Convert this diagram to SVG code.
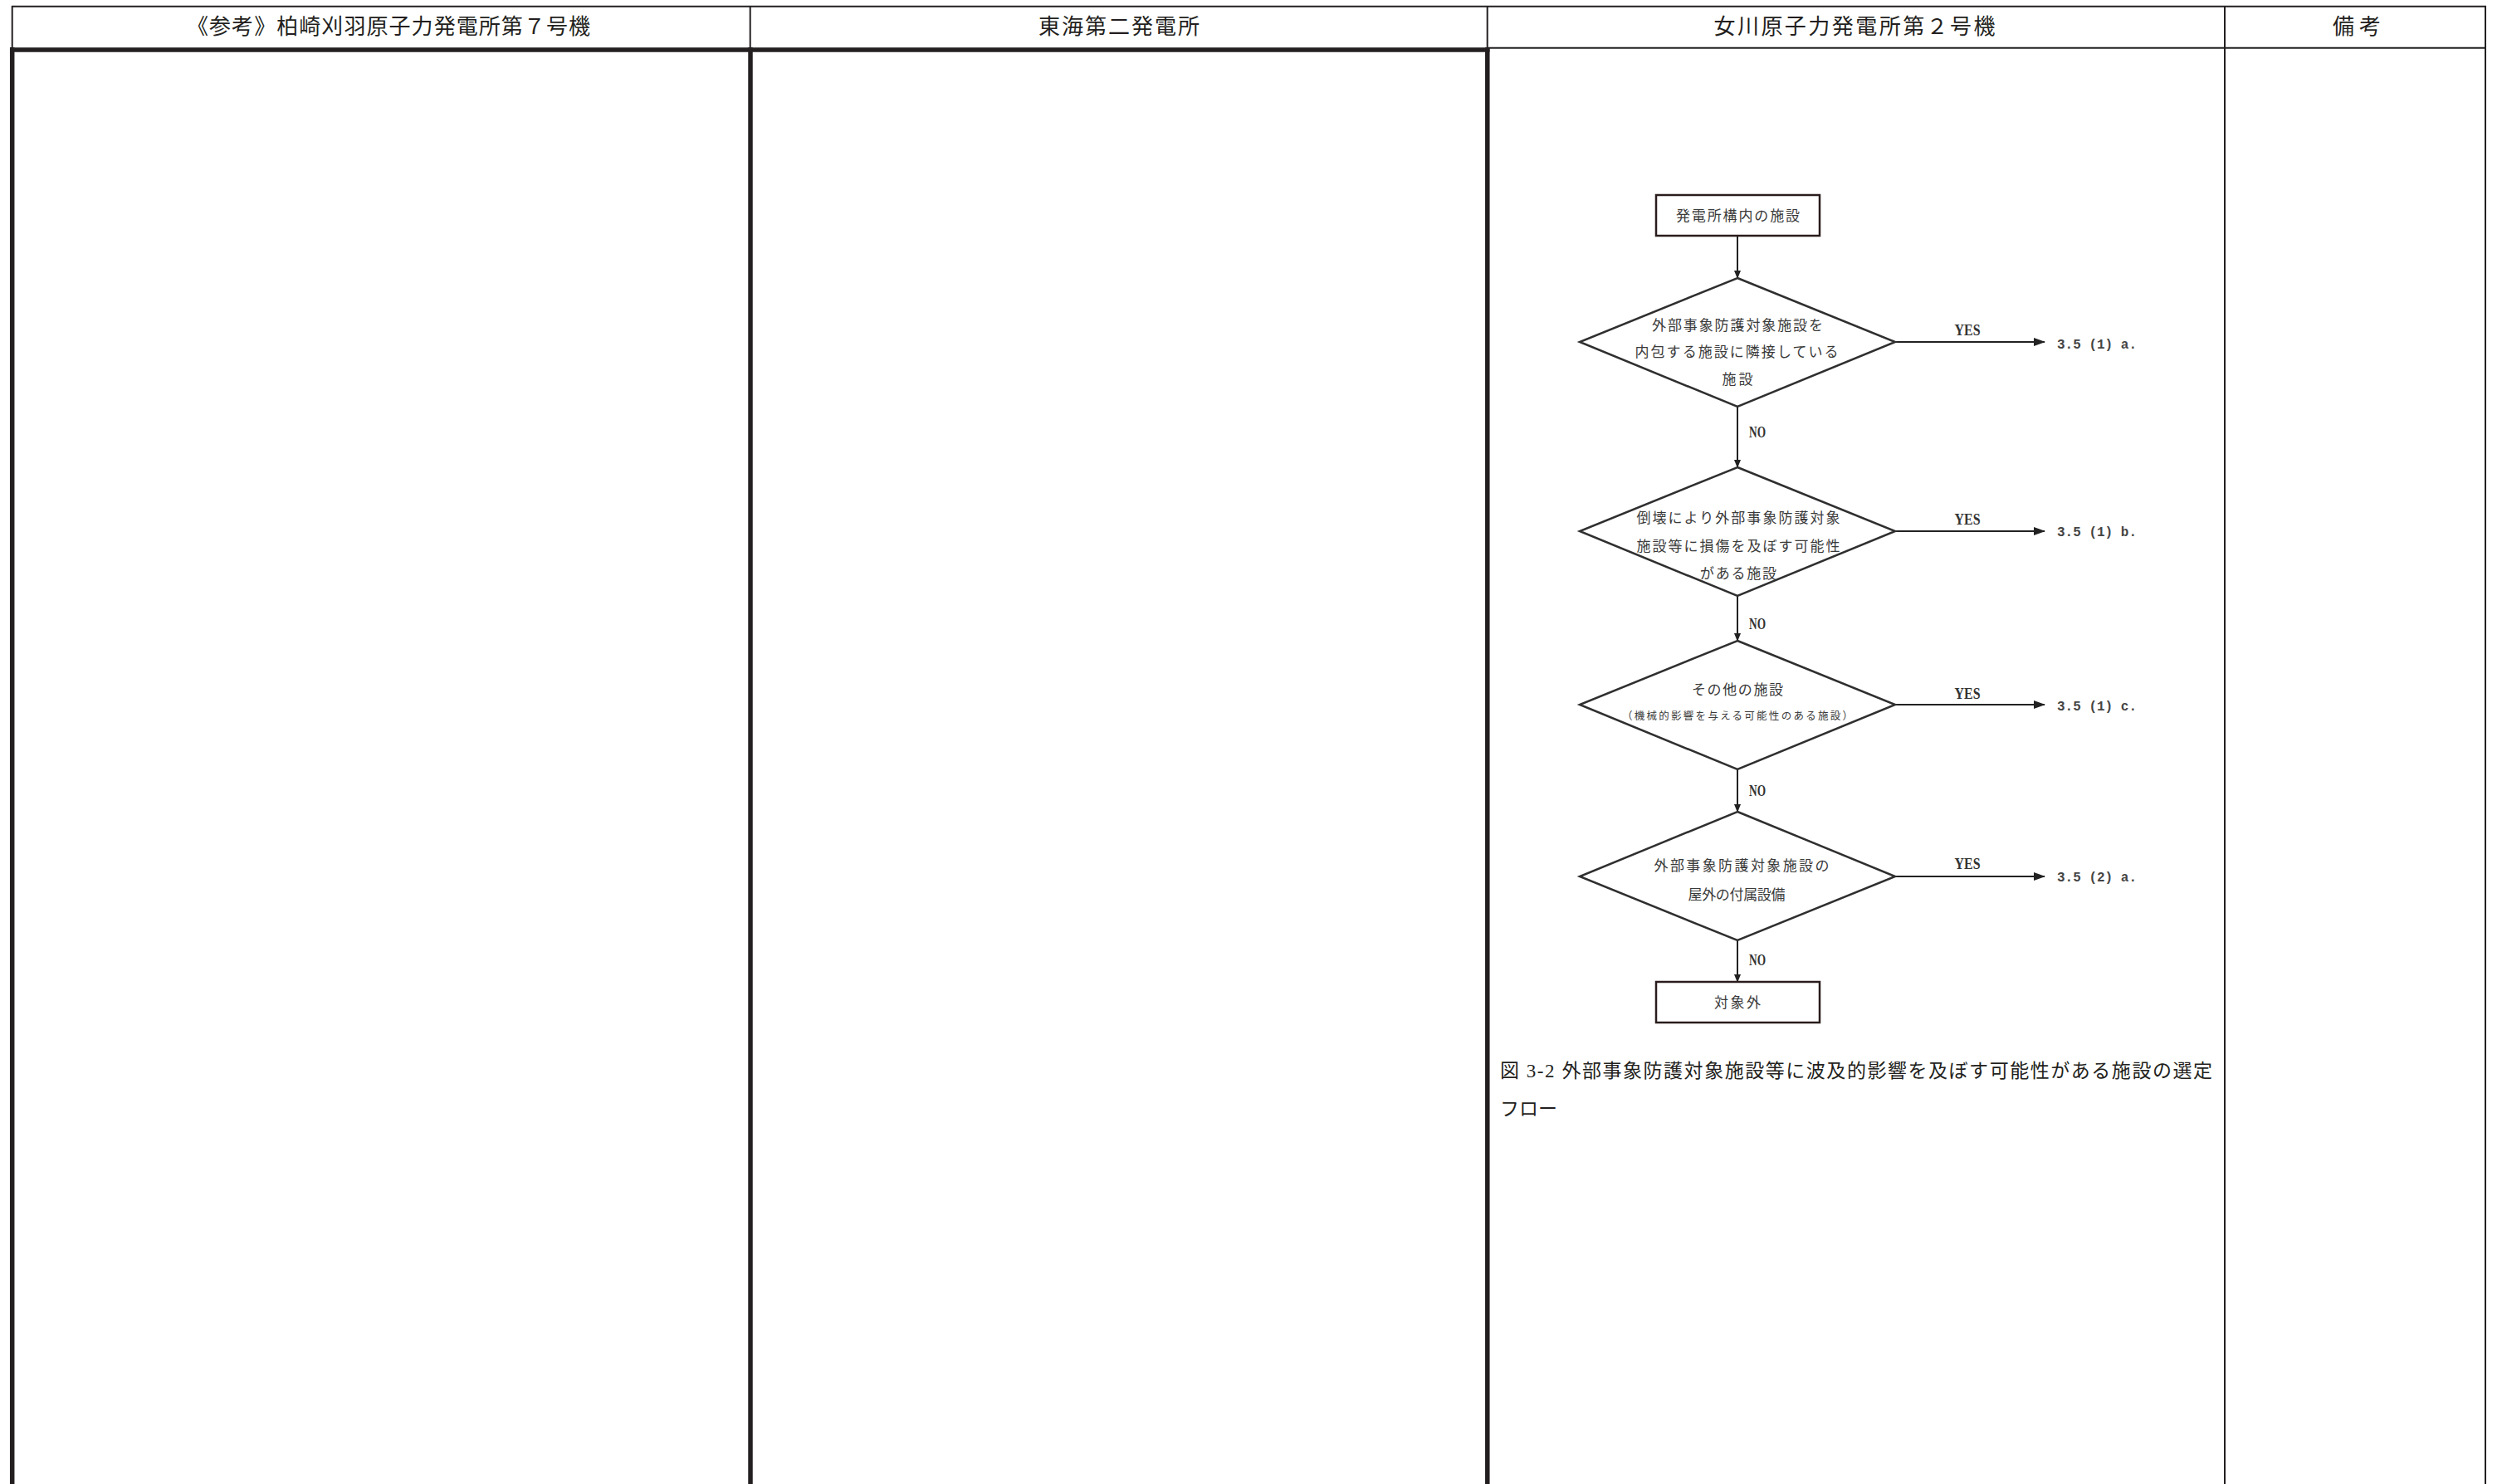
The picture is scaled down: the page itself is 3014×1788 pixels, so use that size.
<svg xmlns="http://www.w3.org/2000/svg" width="3014" height="1788" viewBox="0 0 3014 1788">
<defs>
<style>
.hdr{font-family:"Noto Sans CJK JP","Noto Sans",sans-serif;font-size:26px;fill:#231f20;text-anchor:middle}
.thin{stroke:#231f20;stroke-width:2;fill:none}
.thick{stroke:#231f20;stroke-width:5.5;fill:none}
.box{stroke:#2a1c1c;stroke-width:2.5;fill:#fff}
.dia{stroke:#2f2f2f;stroke-width:2.5;fill:#fff}
.ft{font-family:"Noto Sans CJK JP",sans-serif;font-size:17px;fill:#3a3a3a;text-anchor:middle}
.fs{font-family:"Noto Sans CJK JP",sans-serif;font-size:12.5px;fill:#3a3a3a;text-anchor:middle}
.yn{font-family:"Liberation Serif",serif;font-size:18px;fill:#333;text-anchor:middle;font-weight:bold}
.ref{font-family:"Liberation Mono",monospace;font-size:16px;fill:#444;font-weight:bold}
.conn{stroke:#222;stroke-width:2;fill:none}
.cap{font-family:"Liberation Serif","Noto Sans CJK JP",serif;font-size:23px;fill:#231f20}
</style>
<marker id="ah" markerWidth="10" markerHeight="10" refX="9" refY="5" orient="auto" markerUnits="userSpaceOnUse">
<path d="M0,1 L10,5 L0,9 Z" fill="#222"/>
</marker>
<marker id="ahy" markerWidth="14" markerHeight="12" refX="13" refY="6" orient="auto" markerUnits="userSpaceOnUse">
<path d="M0,1 L14,6 L0,11 Z" fill="#222"/>
</marker>
</defs>
<rect width="3014" height="1788" fill="#fff"/>

<g id="table">
<line class="thin" x1="14" y1="7.7" x2="2995" y2="7.7"/>
<line class="thin" x1="14.7" y1="7" x2="14.7" y2="58"/>
<line class="thin" x1="903.7" y1="7" x2="903.7" y2="58"/>
<line class="thin" x1="1791.7" y1="7" x2="1791.7" y2="58"/>
<line class="thin" x1="2680" y1="7" x2="2680" y2="1788"/>
<line class="thin" x1="2994" y1="7" x2="2994" y2="1788"/>
<line class="thin" x1="1792" y1="57.8" x2="2995" y2="57.8"/>
<line class="thick" x1="12" y1="60" x2="1794.5" y2="60"/>
<line class="thick" x1="14.7" y1="57" x2="14.7" y2="1788"/>
<line class="thick" x1="904" y1="57" x2="904" y2="1788"/>
<line class="thick" x1="1791.8" y1="57" x2="1791.8" y2="1788"/>
<text class="hdr" x="468" y="41" textLength="486" lengthAdjust="spacing">《参考》柏崎刈羽原子力発電所第７号機</text>
<text class="hdr" x="1348" y="41" textLength="194" lengthAdjust="spacing">東海第二発電所</text>
<text class="hdr" x="2234" y="41" textLength="339" lengthAdjust="spacing">女川原子力発電所第２号機</text>
<text class="hdr" x="2839" y="41" textLength="58" lengthAdjust="spacing">備考</text>
</g>

<g id="connectors">
<line class="conn" x1="2093" y1="284" x2="2093" y2="335" marker-end="url(#ah)"/>
<line class="conn" x1="2093" y1="490" x2="2093" y2="563" marker-end="url(#ah)"/>
<line class="conn" x1="2093" y1="718" x2="2093" y2="772" marker-end="url(#ah)"/>
<line class="conn" x1="2093" y1="927" x2="2093" y2="978" marker-end="url(#ah)"/>
<line class="conn" x1="2093" y1="1133" x2="2093" y2="1183" marker-end="url(#ah)"/>
<line class="conn" x1="2283" y1="412" x2="2463" y2="412" marker-end="url(#ahy)"/>
<line class="conn" x1="2283" y1="640" x2="2463" y2="640" marker-end="url(#ahy)"/>
<line class="conn" x1="2283" y1="849" x2="2463" y2="849" marker-end="url(#ahy)"/>
<line class="conn" x1="2283" y1="1056" x2="2463" y2="1056" marker-end="url(#ahy)"/>
<text class="yn" x="2370" y="404" textLength="31" lengthAdjust="spacingAndGlyphs">YES</text>
<text class="yn" x="2370" y="632" textLength="31" lengthAdjust="spacingAndGlyphs">YES</text>
<text class="yn" x="2370" y="842" textLength="31" lengthAdjust="spacingAndGlyphs">YES</text>
<text class="yn" x="2370" y="1047" textLength="31" lengthAdjust="spacingAndGlyphs">YES</text>
<text class="yn" x="2117" y="527" textLength="20" lengthAdjust="spacingAndGlyphs">NO</text>
<text class="yn" x="2117" y="758" textLength="20" lengthAdjust="spacingAndGlyphs">NO</text>
<text class="yn" x="2117" y="959" textLength="20" lengthAdjust="spacingAndGlyphs">NO</text>
<text class="yn" x="2117" y="1163" textLength="20" lengthAdjust="spacingAndGlyphs">NO</text>
</g>

<g id="start">
<rect class="box" x="1995" y="235" width="197" height="49"/>
<text class="ft" x="2093.5" y="266" textLength="149" lengthAdjust="spacing">発電所構内の施設</text>
</g>

<g id="d1">
<polygon class="dia" points="2093,335 2283,412 2093,490 1903,412"/>
<text class="ft" x="2093" y="397.5" textLength="206" lengthAdjust="spacing">外部事象防護対象施設を</text>
<text class="ft" x="2092" y="429.5" textLength="245" lengthAdjust="spacing">内包する施設に隣接している</text>
<text class="ft" x="2093" y="462.5" textLength="37" lengthAdjust="spacing">施設</text>
</g>
<g id="r1"><text class="ref" x="2478" y="420" textLength="96" lengthAdjust="spacing">3.5 (1) a.</text></g>

<g id="d2">
<polygon class="dia" points="2093,563 2283,640 2093,718 1903,640"/>
<text class="ft" x="2094" y="629.5" textLength="245" lengthAdjust="spacing">倒壊により外部事象防護対象</text>
<text class="ft" x="2094" y="663.5" textLength="245" lengthAdjust="spacing">施設等に損傷を及ぼす可能性</text>
<text class="ft" x="2094" y="696.5" textLength="92" lengthAdjust="spacing">がある施設</text>
</g>
<g id="r2"><text class="ref" x="2478" y="646" textLength="96" lengthAdjust="spacing">3.5 (1) b.</text></g>

<g id="d3">
<polygon class="dia" points="2093,772 2283,849 2093,927 1903,849"/>
<text class="ft" x="2093" y="836.5" textLength="110" lengthAdjust="spacing">その他の施設</text>
<text class="fs" x="2093" y="866.5" textLength="278" lengthAdjust="spacing">（機械的影響を与える可能性のある施設）</text>
</g>
<g id="r3"><text class="ref" x="2478" y="856" textLength="96" lengthAdjust="spacing">3.5 (1) c.</text></g>

<g id="d4">
<polygon class="dia" points="2093,978 2283,1056 2093,1133 1903,1056"/>
<text class="ft" x="2098" y="1048.5" textLength="211" lengthAdjust="spacing">外部事象防護対象施設の</text>
<text class="ft" x="2092" y="1083.5" textLength="117" lengthAdjust="spacing">屋外の付属設備</text>
</g>
<g id="r4"><text class="ref" x="2478" y="1062" textLength="96" lengthAdjust="spacing">3.5 (2) a.</text></g>

<g id="end">
<rect class="box" x="1995" y="1183" width="197" height="49"/>
<text class="ft" x="2093" y="1214" textLength="56" lengthAdjust="spacing">対象外</text>
</g>

<g id="caption">
<text class="cap" x="1807" y="1298" textLength="858" lengthAdjust="spacing">図 3-2 外部事象防護対象施設等に波及的影響を及ぼす可能性がある施設の選定</text>
<text class="cap" x="1807" y="1344" textLength="69" lengthAdjust="spacing">フロー</text>
</g>
</svg>
